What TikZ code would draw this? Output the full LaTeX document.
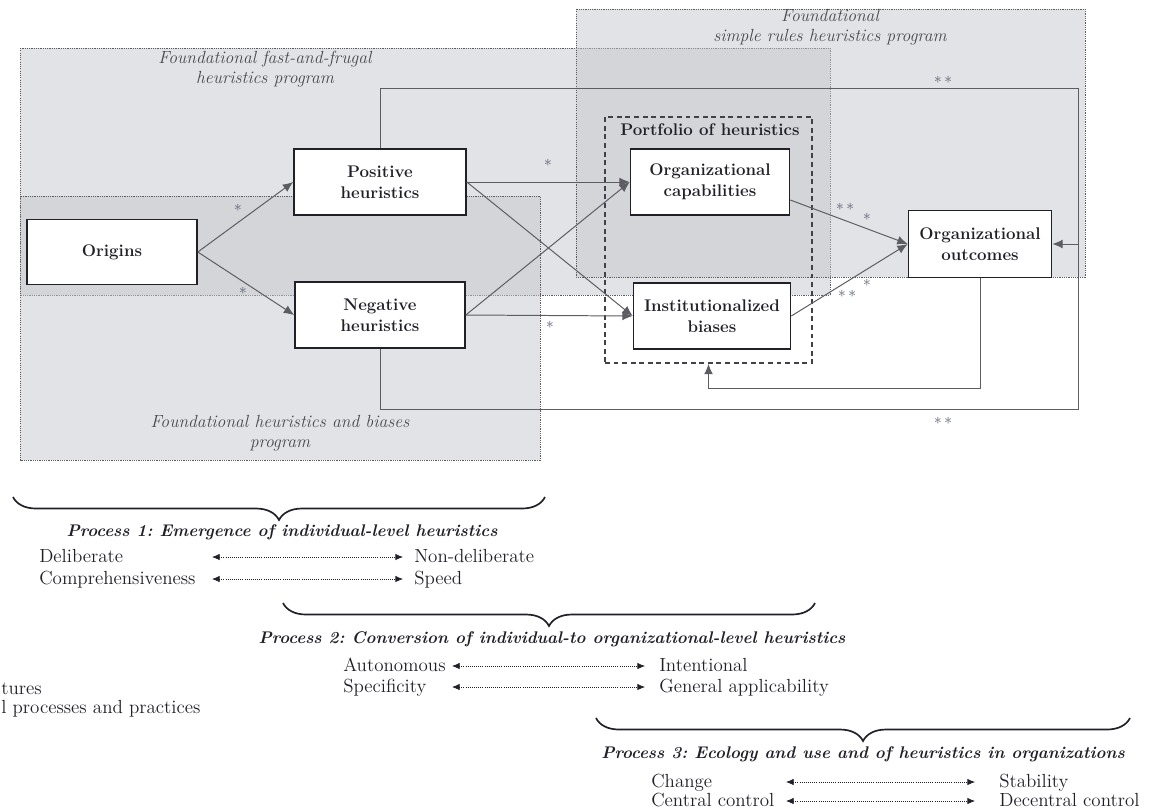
\documentclass[tikz,border=0pt]{standalone}
\usepackage{fontspec}
\usepackage{tikz}
\usetikzlibrary{arrows.meta,positioning,decorations.pathreplacing}
\frenchspacing
\definecolor{HeuInk}{RGB}{32,32,40}
\definecolor{HeuLine}{RGB}{92,92,98}
\definecolor{HeuShade}{RGB}{196,199,205}
\definecolor{HeuLabel}{RGB}{72,72,78}
\definecolor{HeuStar}{RGB}{88,94,112}
\tikzset{
  heu/region/.style={
    draw=HeuLine,
    line width=0.5pt,
    dash pattern=on 0.8pt off 0.8pt,
    fill=HeuShade,
    fill opacity=0.5
  },
  heu/box/.style={
    draw=HeuInk,
    line width=1.1pt,
    fill=white,
    align=center,
    text=HeuInk,
    inner sep=0pt,
    minimum height=1.65cm,
    font=\fontsize{12}{15}\selectfont\bfseries
  },
  heu/portfolio/.style={
    draw=HeuInk!85,
    line width=1.1pt,
    dash pattern=on 3.5pt off 2.6pt,
    inner sep=0pt
  },
  heu/boxtitle/.style={font=\fontsize{12}{15}\selectfont\bfseries, text=HeuInk},
  heu/program/.style={font=\fontsize{12.5}{13.8}\selectfont\itshape, text=HeuLabel, align=center},
  heu/line/.style={draw=HeuLine, line width=0.7pt},
  heu/arrow/.style={-{Latex[length=2.6mm,width=2.2mm]}, draw=HeuLine, line width=0.7pt},
  heu/star/.style={font=\fontsize{11}{12}\selectfont, text=HeuStar, inner sep=0pt},
  heu/brace/.style={decorate, decoration={brace,amplitude=0.575cm}, draw=HeuInk, line width=1.2pt},
  heu/process/.style={font=\fontsize{12}{14}\selectfont\bfseries\itshape, text=HeuInk},
  heu/pole/.style={font=\fontsize{13.5}{15}\selectfont, text=HeuInk, anchor=west, inner sep=0pt, text height=8.5pt, text depth=0pt},
  heu/scale/.style={{Latex[length=1.9mm,width=1.6mm]}-{Latex[length=1.9mm,width=1.6mm]}, draw=HeuInk, line width=0.5pt, densely dotted}
}
\begin{document}
\begin{tikzpicture}[x=0.025cm,y=-0.025cm]
  \useasboundingbox (0,0) rectangle (1154,811);
  % the three research programs
  \draw[heu/region] (20,48) rectangle (830,295);
  \draw[heu/region] (20,196) rectangle (540,460);
  \draw[heu/region] (576,9) rectangle (1085,277);
  \node[heu/program] (ffp) at (265,69) {Foundational fast-and-frugal\\heuristics program};
  \node[heu/program] (srp) at (830,27) {Foundational\\simple rules heuristics program};
  \node[heu/program] (hbp) at (280,433) {Foundational heuristics and biases\\program};

  % model
  \node[heu/portfolio, minimum width=5.175cm, minimum height=6.15cm] (port) at (708.5,240) {};
  \node[heu/boxtitle] (portt) at (710,130) {Portfolio of heuristics};
  \node[heu/box, minimum width=4.25cm, minimum height=1.625cm] (org) at (112,252) {Origins};
  \node[heu/box, minimum width=4.3cm] (pos) at (380,182) {Positive\\heuristics};
  \node[heu/box, minimum width=4.25cm] (neg) at (380,315) {Negative\\heuristics};
  \node[heu/box, minimum width=3.975cm] (cap) at (710,182) {Organizational\\capabilities};
  \node[heu/box, minimum width=3.925cm] (bia) at (712,316) {Institutionalized\\biases};
  \node[heu/box, minimum width=3.575cm, minimum height=1.675cm] (out) at (980,244) {Organizational\\outcomes};

  \coordinate (rt) at (1078,88);
  \coordinate (rb) at (1078,409);
  \coordinate (fb) at (708.5,388);

  \draw[heu/arrow] (org.east) -- (pos.west);
  \draw[heu/arrow] (org.east) -- (neg.west);
  \draw[heu/arrow] (pos.east) -- (cap.west);
  \draw[heu/arrow] (pos.east) -- (bia.west);
  \draw[heu/arrow] (neg.east) -- (cap.west);
  \draw[heu/arrow] (neg.east) -- (bia.west);
  \draw[heu/arrow] ([yshift=-0.45cm]cap.east) -- (out.west);
  \draw[heu/arrow] (bia.east) -- (out.west);
  \draw[heu/arrow] (pos.north) |- (rt) |- (out.east);
  \draw[heu/line] (neg.south) |- (rb) -- (rt |- out.east);
  \draw[heu/arrow] (out.south) |- (fb) -- (port.south);

  \node[heu/star] (s1) at (238,208) {$\ast$};
  \node[heu/star] (s2) at (243,291) {$\ast$};
  \node[heu/star] (s3) at (548,163) {$\ast$};
  \node[heu/star] (s4) at (550,325) {$\ast$};
  \node[heu/star] (s5) at (845,207) {$\ast\,\ast$};
  \node[heu/star] (s6) at (867,217) {$\ast$};
  \node[heu/star] (s7) at (867,283) {$\ast$};
  \node[heu/star] (s8) at (847,294) {$\ast\,\ast$};
  \node[heu/star] (s9) at (943,80) {$\ast\,\ast$};
  \node[heu/star] (s10) at (943,421) {$\ast\,\ast$};

  % processes
  \draw[heu/brace] (545,497) -- (13,497);
  \node[heu/process] (p1) at (282,532) {Process 1: Emergence of individual-level heuristics};
  \node[heu/pole] (p1a) at (39,557) {Deliberate};
  \node[heu/pole] (p1b) at (414,557) {Non-deliberate};
  \node[heu/pole] (p1c) at (39,579) {Comprehensiveness};
  \node[heu/pole] (p1d) at (414,579) {Speed};
  \draw[heu/scale] (212,557) coordinate (p1al) -- (403,557) coordinate (p1ar);
  \draw[heu/scale] (212,579) coordinate (p1cl) -- (403,579) coordinate (p1cr);

  \draw[heu/brace] (815,603) -- (283,603);
  \node[heu/process] (p2) at (552,639) {Process 2: Conversion of individual-to organizational-level heuristics};
  \node[heu/pole] (p2a) at (343,666) {Autonomous};
  \node[heu/pole] (p2b) at (659,666) {Intentional};
  \node[heu/pole] (p2c) at (343,687) {Specificity};
  \node[heu/pole] (p2d) at (659,687) {General applicability};
  \draw[heu/scale] (452,666) coordinate (p2al) -- (645,666) coordinate (p2ar);
  \draw[heu/scale] (452,687) coordinate (p2cl) -- (645,687) coordinate (p2cr);

  \node[heu/pole] (cut1) at (1,689) {tures};
  \node[heu/pole] (cut2) at (1,708) {l processes and practices};

  \draw[heu/brace] (1130,718) -- (596,718);
  \node[heu/process] (p3) at (863,754) {Process 3: Ecology and use and of heuristics in organizations};
  \node[heu/pole] (p3a) at (651,782) {Change};
  \node[heu/pole] (p3b) at (999,782) {Stability};
  \node[heu/pole] (p3c) at (651,801) {Central control};
  \node[heu/pole] (p3d) at (999,801) {Decentral control};
  \draw[heu/scale] (786,782) coordinate (p3al) -- (975,782) coordinate (p3ar);
  \draw[heu/scale] (786,801) coordinate (p3cl) -- (975,801) coordinate (p3cr);
\end{tikzpicture}
\end{document}
